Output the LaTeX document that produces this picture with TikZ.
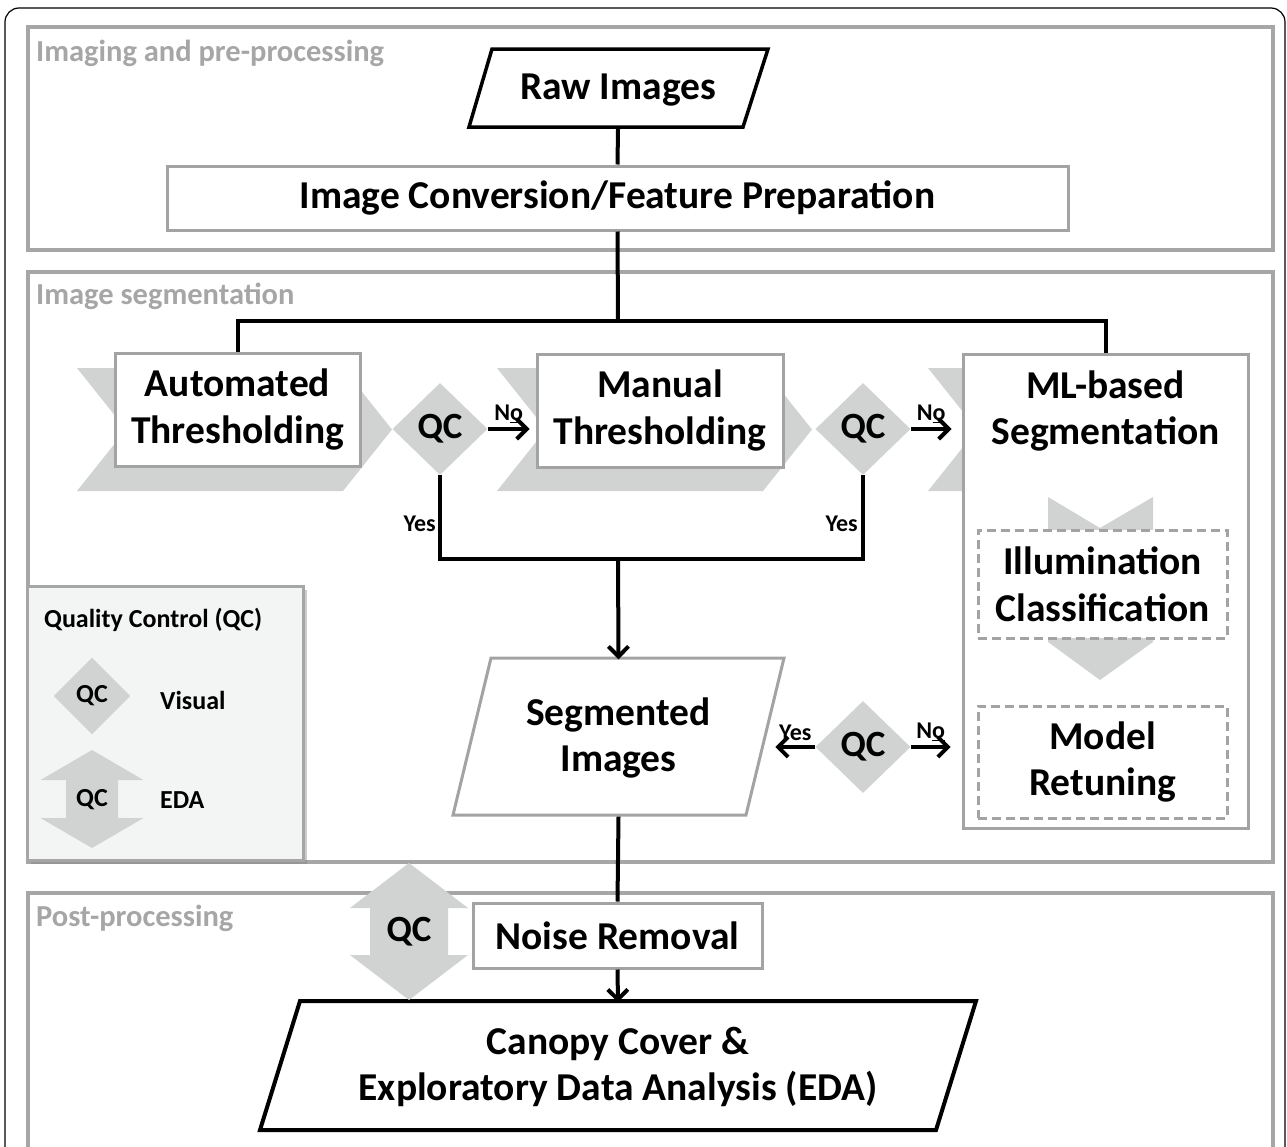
\documentclass[tikz,border=0pt]{standalone}
\usepackage{fontspec}
\setmainfont{Carlito}
\usetikzlibrary{shapes.geometric,arrows.meta,shadows,calc}
\definecolor{secgray}{HTML}{A6A6A6}
\definecolor{boxgray}{HTML}{A3A3A3}
\definecolor{chevfill}{HTML}{D1D3D2}
\definecolor{legfill}{HTML}{F3F4F4}
\newcommand\fbig{\fontsize{39.5}{46.5}\selectfont\bfseries}
\newcommand\fqc{\fontsize{37}{44}\selectfont\bfseries}
\newcommand\fsec{\fontsize{30.5}{36}\selectfont\bfseries}
\newcommand\fyn{\fontsize{24}{28}\selectfont\bfseries}
\newcommand\fleg{\fontsize{26}{31}\selectfont\bfseries}
\begin{document}
\begin{tikzpicture}[x=1pt,y=-1pt,
  secbox/.style={draw=secgray,line width=4},
  seclabel/.style={text=secgray,font=\fsec,anchor=base west,inner sep=0},
  proc/.style={draw=boxgray,line width=3,fill=white,font=\fbig,align=center,inner sep=0},
  dashbox/.style={draw=boxgray,line width=3,fill=white,font=\fbig,align=center,inner sep=0,dash pattern=on 9pt off 5pt},
  txt/.style={font=\fbig,align=center,inner sep=0},
  chev/.style={fill=chevfill,draw=none},
  qcd/.style={diamond,fill=chevfill,draw=none,inner sep=0,font=\fqc,minimum width=95,minimum height=92},
  conn/.style={line width=4,draw=black},
  arr/.style={conn,-{Straight Barb[length=10pt,width=20pt]}},
  yn/.style={font=\fyn,inner sep=0}
]
\useasboundingbox (0,0) rectangle (1287,1146);
\clip (0,0) rectangle (1287,1146);
% outer frame
\draw[line width=1.2,rounded corners=14] (5,8) rectangle (1285,1180);
% section boxes
\draw[secbox] (28,27) rectangle (1273,250);
\draw[secbox] (28,272) rectangle (1273,862);
\draw[secbox] (28,893) rectangle (1273,1180);
\node[seclabel] (lab1) at (36,61) {Imaging and pre-processing};
\node[seclabel] (lab2) at (36,304) {Image segmentation};
\node[seclabel] (lab3) at (36,926) {Post-processing};

% chevrons
\fill[chev] (77,368) -- (343,368) -- (392,429.5) -- (343,491) -- (77,491) -- (126,429.5) -- cycle;
\fill[chev] (497,368) -- (763,368) -- (812,429.5) -- (763,491) -- (497,491) -- (546,429.5) -- cycle;
\fill[chev] (928,368) -- (1194,368) -- (1243,429.5) -- (1194,491) -- (928,491) -- (977,429.5) -- cycle;

% raw images
\draw[line width=3.5,fill=white] (492,49) -- (768,49) -- (743,127) -- (469,127) -- cycle;
\node[txt,minimum height=78] (raw) at (618,90) {Raw Images};
\node[proc,minimum width=901,minimum height=64] (conv) at (617.5,198) {Image Conversion/Feature Preparation};

\node[proc,minimum width=245,minimum height=113] (auto) at (237.5,409.5) {Automated\\Thresholding};
\node[proc,minimum width=246,minimum height=113] (man) at (660,410.5) {Manual\\Thresholding};
\node[proc,minimum width=285,minimum height=474] (ml) at (1105.5,591) {};
\node[txt] (mltxt) at (1105.5,411) {ML-based\\Segmentation};

% inner down chevron
\fill[chev] (1048,497) -- (1100,528) -- (1153,497) -- (1153,642) -- (1100,680) -- (1048,642) -- cycle;
\node[dashbox,minimum width=249,minimum height=108] (illum) at (1102.5,584) {Illumination\\Classification};
\node[dashbox,minimum width=249,minimum height=112] (retune) at (1102.5,762) {Model\\Retuning};

\node[qcd] (qc1) at (440,429) {QC};
\node[qcd] (qc2) at (863,429) {QC};
\node[qcd] (qc3) at (863,747) {QC};

% segmented images
\draw[draw=boxgray,line width=3,fill=white] (491,658) -- (784,658) -- (746,815) -- (453,815) -- cycle;
\node[txt,minimum height=157] (seg) at (618.5,738) {Segmented\\Images};

% noise removal
\node[proc,minimum width=289,minimum height=65] (noise) at (617.5,935.5) {Noise Removal};

% canopy
\draw[line width=4,fill=white] (300,1001) -- (976,1001) -- (936,1130) -- (260,1130) -- cycle;
\node[txt,minimum height=129] (can) at (618,1067) {Canopy Cover \&\\Exploratory Data Analysis (EDA)};

% post-processing QC double arrow
\fill[chev] (409,863) -- (468,908) -- (448,908) -- (448,955) -- (468,955) -- (409,1000) -- (350,955) -- (370,955) -- (370,908) -- (350,908) -- cycle;
\node[font=\fqc,inner sep=0] (qcpost) at (409,932) {QC};

% connectors
\coordinate (split) at (618,321);
\coordinate (join) at (618,559);
\draw[conn] (raw.south) -- (conv.north);
\draw[conn] (conv.south) -- (split);
\draw[conn] (auto.north) -- (auto.north |- split) -- (ml.north |- split) -- (ml.north);
\draw[arr] (qc1.east) -- ($(qc1.east -| man.west)+(-6,0)$) node[midway,above=4pt,yn] (no1) {N\underline{o}};
\draw[arr] (qc2.east) -- ($(qc2.east -| ml.west)+(-10,0)$) node[midway,above=4pt,yn] (no2) {N\underline{o}};
\draw[conn] (qc1.south) -- (qc1.south |- join) -- (qc2.south |- join) -- (qc2.south);
\node[yn,anchor=east] (yes1) at (436,524) {Yes};
\node[yn,anchor=east] (yes2) at (858,524) {Yes};
\draw[arr] (join) -- (seg.north);
\draw[arr] (qc3.west) -- ++(-40,0) node[midway,above=4pt,yn] (yes3) {Yes};
\draw[arr] (qc3.east) -- ++(40,0) node[midway,above=4pt,yn] (no3) {N\underline{o}};
\draw[conn] (seg.south) -- (noise.north);
\draw[arr] (noise.south) -- (can.north);

% legend
\node[draw=secgray,line width=3,fill=legfill,minimum width=276,minimum height=274,inner sep=0,
  drop shadow={shadow xshift=4pt,shadow yshift=-4pt,opacity=0.4}] (leg) at (165,723) {};
\node[font=\fleg,anchor=west,inner sep=0] (legt) at (44,620) {Quality Control (QC)};
\node[diamond,fill=chevfill,inner sep=0,minimum width=77,minimum height=77,font=\fleg] (legd) at (92,696) {QC};
\node[font=\fleg,anchor=west,inner sep=0] (legv) at (160,700) {Visual};
\fill[chev] (92,750) -- (143.5,780) -- (118,780) -- (118,818) -- (143.5,818) -- (92,848) -- (40.5,818) -- (66,818) -- (66,780) -- (40.5,780) -- cycle;
\node[font=\fleg,inner sep=0] (lege) at (92,800) {QC};
\node[font=\fleg,anchor=west,inner sep=0] (legeda) at (160,800) {EDA};
\end{tikzpicture}
\end{document}
